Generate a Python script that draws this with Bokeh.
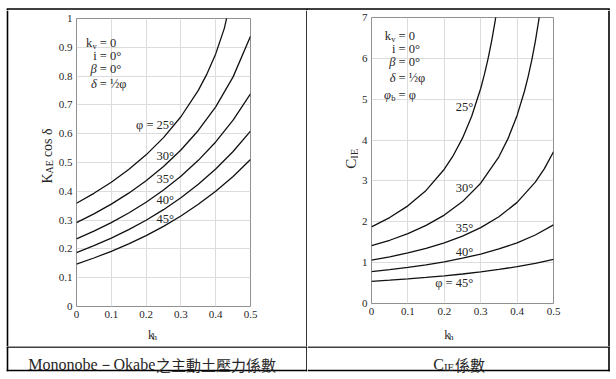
import math
from bokeh.plotting import figure
from bokeh.models import Label, FixedTicker, Range1d
from bokeh.layouts import row, column
from bokeh.embed import file_html
from bokeh.resources import INLINE

# ---------------- data ----------------
kh_std = [0.0, 0.05, 0.1, 0.15, 0.2, 0.25, 0.3, 0.35, 0.4, 0.45, 0.5]

# Mononobe-Okabe  K_AE cos(delta)
kh_kae_25 = [0.0, 0.05, 0.1, 0.15, 0.2, 0.25, 0.3, 0.35, 0.375, 0.4, 0.425, 0.45]
kae_25 = [0.3587, 0.3930, 0.4316, 0.4757, 0.5265, 0.5864, 0.6589, 0.7506, 0.8078, 0.8771, 0.9666, 1.1014]
kae_30 = [0.2911, 0.3215, 0.3554, 0.3935, 0.4366, 0.4860, 0.5434, 0.6112, 0.6934, 0.7973, 0.9384]
kae_35 = [0.2347, 0.2616, 0.2914, 0.3248, 0.3622, 0.4044, 0.4524, 0.5075, 0.5714, 0.6470, 0.7383]
kae_40 = [0.1874, 0.2111, 0.2374, 0.2668, 0.2995, 0.3362, 0.3774, 0.4241, 0.4772, 0.5381, 0.6087]
kae_45 = [0.1475, 0.1684, 0.1916, 0.2175, 0.2463, 0.2784, 0.3144, 0.3548, 0.4002, 0.4517, 0.5101]

# C_IE
kh_cie_25 = [0.0, 0.05, 0.1, 0.15, 0.2, 0.225, 0.25, 0.275, 0.3, 0.31, 0.32, 0.33, 0.34, 0.35]
cie_25 = [1.877, 2.103, 2.390, 2.767, 3.287, 3.628, 4.047, 4.576, 5.263, 5.600, 5.983, 6.422, 6.930, 7.526]
kh_cie_30 = [0.0, 0.05, 0.1, 0.15, 0.2, 0.25, 0.3, 0.35, 0.375, 0.4, 0.42, 0.43, 0.44, 0.45, 0.46, 0.47]
cie_30 = [1.414, 1.548, 1.710, 1.911, 2.164, 2.494, 2.944, 3.591, 4.035, 4.604, 5.189, 5.541, 5.945, 6.411, 6.958, 7.606]
kh_cie_35 = [0.0, 0.05, 0.1, 0.15, 0.2, 0.25, 0.3, 0.35, 0.4, 0.45, 0.475, 0.5]
cie_35 = [1.061, 1.143, 1.238, 1.351, 1.486, 1.651, 1.857, 2.122, 2.475, 2.970, 3.300, 3.712]
cie_40 = [0.778, 0.827, 0.883, 0.947, 1.021, 1.108, 1.211, 1.335, 1.486, 1.677, 1.925]
cie_45 = [0.541, 0.570, 0.601, 0.637, 0.677, 0.722, 0.773, 0.833, 0.902, 0.984, 1.082]

x_ticks = [0, 0.1, 0.2, 0.3, 0.4, 0.5]
x_tick_labels = ["0", "0.1", "0.2", "0.3", "0.4", "0.5"]
kae_ticks = [0, 0.1, 0.2, 0.3, 0.4, 0.5, 0.6, 0.7, 0.8, 0.9, 1]
kae_tick_labels = ["0", "0.1", "0.2", "0.3", "0.4", "0.5", "0.6", "0.7", "0.8", "0.9", "1"]
cie_ticks = [0, 1, 2, 3, 4, 5, 6, 7]
cie_tick_labels = ["0", "1", "2", "3", "4", "5", "6", "7"]

kae_curve_labels = ["φ = 25°", "30°", "35°", "40°", "45°"]
cie_curve_labels = ["25°", "30°", "35°", "40°", "φ = 45°"]
caption_left_latin = "Mononobe－Okabe"
caption_left_cjk = "之主動土壓力係數"
caption_right_sub = "IE"
caption_right_tail = "係數"

# ---------------- styling ----------------
SERIF = "Liberation Serif"
CJK = "Noto Sans CJK TC"
TXT = "#262626"
GRID = "#dcdcdc"
FRAME = "#909090"
PT = 12.5   # parameter / curve label size
BW = 1.6    # table border width


def page_to_data(ox, oy, fl, ft, fw, fh, xr, yr):
    def f(px, py):
        cx, cy = px - ox, py - oy
        return (xr[0] + (cx - fl) * (xr[1] - xr[0]) / fw,
                yr[1] - (cy - ft) * (yr[1] - yr[0]) / fh)
    return f


def shift(ox, oy):
    return lambda px, py: (px - ox, py - oy)


def make_panel(width, height, fl, ft, fw, fh, yr, yticks, ylabels):
    p = figure(width=width, height=height, x_range=Range1d(0, 0.5), y_range=Range1d(*yr),
               output_backend="svg", toolbar_location=None,
               min_border_left=fl, min_border_right=width - fl - fw,
               min_border_top=ft, min_border_bottom=height - ft - fh)
    p.background_fill_color = "white"
    p.border_fill_color = "white"
    p.outline_line_color = FRAME
    p.outline_line_width = 1
    p.xaxis.ticker = FixedTicker(ticks=x_ticks)
    p.yaxis.ticker = FixedTicker(ticks=yticks)
    p.xaxis.major_label_overrides = dict(zip(x_ticks, x_tick_labels))
    p.yaxis.major_label_overrides = dict(zip(yticks, ylabels))
    for ax in (p.xaxis, p.yaxis):
        ax.axis_line_color = None
        ax.major_tick_line_color = None
        ax.minor_tick_line_color = None
        ax.major_tick_out = 0
        ax.major_tick_in = 0
        ax.major_label_text_font = SERIF
        ax.major_label_text_font_size = "11px"
        ax.major_label_text_color = TXT
        ax.major_label_standoff = 4
    p.xgrid.grid_line_color = GRID
    p.ygrid.grid_line_color = GRID
    return p


def blank(width, height, segs=()):
    """Empty figure whose frame is its whole canvas; data units == canvas pixels."""
    p = figure(width=width, height=height, x_range=Range1d(0, width), y_range=Range1d(height, 0),
               output_backend="svg", toolbar_location=None, min_border=0,
               x_axis_type=None, y_axis_type=None)
    p.background_fill_color = "white"
    p.border_fill_color = "white"
    p.outline_line_color = None
    p.grid.visible = False
    for (x0, y0, x1, y1) in segs:
        p.line([x0, x1], [y0, y1], line_color="black", line_width=BW)
    return p


def lab(p, P, px, py, text, size, align="left", baseline="alphabetic",
        font=SERIF, angle=0.0, style="normal"):
    x, y = P(px, py)
    p.add_layout(Label(x=x, y=y, text=text, text_font=font, text_font_size=f"{size}px",
                       text_align=align, text_baseline=baseline, angle=angle,
                       text_color=TXT, text_font_style=style))


# page layout: root at page (0, 0)
LX = 7        # outer left border x (page)
BY = 24.0     # bottom border y inside the caption figures (page 370)

# ================= top strip (page y 0..9) =================
top = blank(610, 10, segs=[(LX - 0.8, 6.5, 609.3, 6.5), (LX, 6.5, LX, 10),
                           (306.5, 6.5, 306.5, 10), (608.5, 6.5, 608.5, 10)])

# ================= left cell =================
p1 = make_panel(247, 315, 19, 8, 176, 288, (0, 1), kae_ticks, kae_tick_labels)
P1 = page_to_data(55, 10, 19, 8, 176, 288, (0, 0.5), (0, 1))
for xs, ys in [(kh_kae_25, kae_25), (kh_std, kae_30), (kh_std, kae_35),
               (kh_std, kae_40), (kh_std, kae_45)]:
    p1.line(xs, ys, line_color="#111111", line_width=1.3)

for txt, py in zip(kae_curve_labels, [124, 155, 178.7, 199.5, 218]):
    lab(p1, P1, 172.7, py, txt, PT, align="right", baseline="middle")

xeq, lr = 97.5, 94.5
lab(p1, P1, lr - 4.5, 42.3, "k", PT, align="right", baseline="middle")
lab(p1, P1, lr, 45.3, "v", 8.5, align="right", baseline="middle")
lab(p1, P1, xeq, 42.3, "= 0", PT, baseline="middle")
lab(p1, P1, lr, 55, "i", PT, align="right", baseline="middle")
lab(p1, P1, xeq, 55, "= 0°", PT, baseline="middle")
lab(p1, P1, lr, 68.3, "β", PT, align="right", baseline="middle", style="italic")
lab(p1, P1, xeq, 68.3, "= 0°", PT, baseline="middle")
lab(p1, P1, lr, 83.3, "δ", PT, align="right", baseline="middle", style="italic")
lab(p1, P1, xeq, 83.3, "= ½φ", PT, baseline="middle")

ytL = blank(55, 336, segs=[(LX, 0, LX, 336)])
S = shift(0, 10)
lab(ytL, S, 46.5, 183, "K", 14, angle=math.pi / 2)
lab(ytL, S, 49, 172.9, "AE", 10, angle=math.pi / 2)
lab(ytL, S, 46.5, 156.6, "cos δ", 14, angle=math.pi / 2)

xtL = blank(247, 21)
S = shift(55, 325)
lab(xtL, S, 156.5, 334, "k", 12.5)
lab(xtL, S, 162.8, 336.5, "h", 9)

rsL = blank(5, 336, segs=[(4.5, 0, 4.5, 336)])

# ================= right cell =================
p2 = make_panel(246, 313, 13, 7, 182, 286, (0, 7), cie_ticks, cie_tick_labels)
P2 = page_to_data(358, 10, 13, 7, 182, 286, (0, 0.5), (0, 7))
for xs, ys in [(kh_cie_25, cie_25), (kh_cie_30, cie_30), (kh_cie_35, cie_35),
               (kh_std, cie_40), (kh_std, cie_45)]:
    p2.line(xs, ys, line_color="#111111", line_width=1.3)

for txt, py in zip(cie_curve_labels, [106.7, 187.5, 227.5, 251, 282.5]):
    lab(p2, P2, 472.7, py, txt, PT, align="right", baseline="middle")

xeq, lr = 398, 395
lab(p2, P2, lr - 4.5, 35, "k", PT, align="right", baseline="middle")
lab(p2, P2, lr, 38, "v", 8.5, align="right", baseline="middle")
lab(p2, P2, xeq, 35, "= 0", PT, baseline="middle")
lab(p2, P2, lr, 48, "i", PT, align="right", baseline="middle")
lab(p2, P2, xeq, 48, "= 0°", PT, baseline="middle")
lab(p2, P2, lr, 61, "β", PT, align="right", baseline="middle", style="italic")
lab(p2, P2, xeq, 61, "= 0°", PT, baseline="middle")
lab(p2, P2, lr, 77, "δ", PT, align="right", baseline="middle", style="italic")
lab(p2, P2, xeq, 77, "= ½φ", PT, baseline="middle")
lab(p2, P2, lr - 4.5, 94, "φ", PT, align="right", baseline="middle", style="italic")
lab(p2, P2, lr, 97, "b", 8.5, align="right", baseline="middle")
lab(p2, P2, xeq, 94, "= φ", PT, baseline="middle")

ytR = blank(51, 336)
S = shift(307, 10)
lab(ytR, S, 350.5, 168.3, "C", 15, angle=math.pi / 2)
lab(ytR, S, 353.5, 158.3, "IE", 10.5, angle=math.pi / 2)

xtR = blank(246, 23)
S = shift(358, 323)
lab(xtR, S, 456.5, 334, "k", 12.5)
lab(xtR, S, 462.8, 336.5, "h", 9)

rsR = blank(6, 336, segs=[(4.5, 0, 4.5, 336)])

# ================= caption row (page y 346..372) =================
capL = blank(307, 27, segs=[(LX - 0.8, 0.5, 307, 0.5), (LX - 0.8, BY, 307, BY),
                            (LX, 0, LX, BY + 0.8), (306.5, 0, 306.5, BY + 0.8)])
S = shift(0, 346)
lab(capL, S, 154.8, 363.5, caption_left_latin, 16, align="right")
lab(capL, S, 155.5, 363.5, caption_left_cjk, 15, font=CJK)

capR = blank(303, 27, segs=[(0, 0.5, 302.3, 0.5), (0, BY, 302.3, BY),
                            (301.5, 0, 301.5, BY + 0.8)])
S = shift(307, 346)
lab(capR, S, 432.7, 363.5, "C", 16)
lab(capR, S, 443.4, 366, caption_right_sub, 11)
lab(capR, S, 454.5, 363.5, caption_right_tail, 15, font=CJK)

layout = column(
    top,
    row(ytL, column(p1, xtL), rsL, ytR, column(p2, xtR), rsR),
    row(capL, capR),
)

open("out.html", "w").write(file_html(layout, INLINE))
